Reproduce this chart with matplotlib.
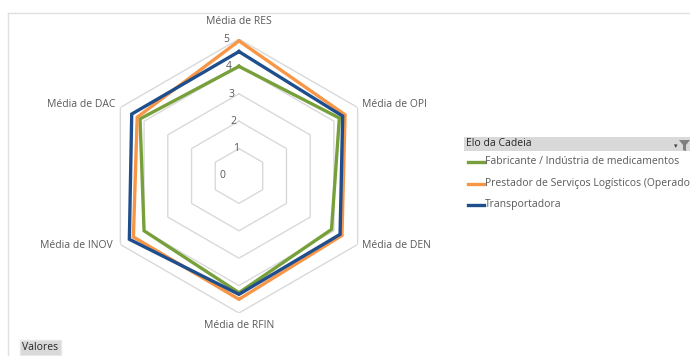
"""Radar chart: average scores per supply-chain link (Elo da Cadeia)."""

import matplotlib

matplotlib.use("Agg")

import matplotlib.pyplot as plt  # noqa: E402
import numpy as np  # noqa: E402
from matplotlib.lines import Line2D  # noqa: E402
from matplotlib.patches import Polygon, Rectangle  # noqa: E402

plt.rcParams["font.family"] = ["Open Sans", "DejaVu Sans"]

CATEGORIES = ["Média de RES", "Média de OPI", "Média de DEN",
              "Média de RFIN", "Média de INOV", "Média de DAC"]
# legend text as far as it is visible in the chart window
SERIES_NAMES = [
    "Fabricante / Indústria de medicamentos",
    "Prestador de Serviços Logísticos (Operado",
    "Transportadora",
]
FABRICANTE = [4.0, 4.23, 3.9, 4.26, 4.0, 4.17]
PRESTADOR = [4.93, 4.47, 4.34, 4.5, 4.45, 4.29]
TRANSPORTADORA = [4.54, 4.37, 4.26, 4.32, 4.62, 4.52]
RADIAL_TICKS = [0, 1, 2, 3, 4, 5]

COLORS = ["#77A03A", "#F79646", "#1F4E8C"]
TEXT_COLOR = "#595959"
GRID_COLOR = "#D9D9D9"

W, H = 690, 356


def fx(px):
    return px / W


def fy(py):
    return 1 - py / H


def main():
    fig = plt.figure(figsize=(6.9, 3.56), dpi=100)
    ax = fig.add_axes([0.1478, 0.1208, 0.3971, 0.7697], projection="polar")
    ax.set_theta_offset(np.pi / 2)
    ax.set_theta_direction(-1)
    ax.set_ylim(0, 5)
    ax.grid(False)
    ax.set_xticks([])
    ax.set_yticks([])
    ax.spines["polar"].set_visible(False)
    ax.patch.set_alpha(0)

    angles = np.linspace(0, 2 * np.pi, len(CATEGORIES), endpoint=False)
    closed = np.append(angles, angles[0])

    # hexagonal gridlines
    for level in RADIAL_TICKS[1:]:
        ax.plot(closed, [level] * len(closed), color=GRID_COLOR, lw=1.0, zorder=1)

    for tick in RADIAL_TICKS:
        if tick:
            ax.text(np.radians(-5.5), tick, str(tick), ha="center", va="center",
                    fontsize=7.5, color=TEXT_COLOR)
        else:
            ax.text(np.radians(-90), 0.6, str(tick), ha="center", va="center",
                    fontsize=7.5, color=TEXT_COLOR)

    for values, color in zip([FABRICANTE, PRESTADOR, TRANSPORTADORA], COLORS):
        vals = values + values[:1]
        ax.plot(closed, vals, color=color, lw=2.4, zorder=3, solid_joinstyle="miter")

    # category labels
    label_spots = [
        (239, 22, "center"),
        (362, 104, "left"),
        (362, 246, "left"),
        (239, 326, "center"),
        (113, 246, "right"),
        (115, 104, "right"),
    ]
    for name, (px, py, ha) in zip(CATEGORIES, label_spots):
        fig.text(fx(px), fy(py), name, ha=ha, va="center", fontsize=7.5,
                 color=TEXT_COLOR)

    # chart frame
    fig.add_artist(Line2D([fx(8), fx(8)], [0, fy(13)], transform=fig.transFigure,
                          color="#E0E0E0", lw=1))
    fig.add_artist(Line2D([fx(8), 1], [fy(13), fy(13)], transform=fig.transFigure,
                          color="#E0E0E0", lw=1))

    # legend (pivot-chart style)
    fig.add_artist(Rectangle((fx(464), fy(151)), fx(226), 14 / H,
                             transform=fig.transFigure, facecolor="#D9D9D9",
                             edgecolor="none"))
    fig.text(fx(466), fy(144), "Elo da Cadeia", ha="left", va="center",
             fontsize=7.5, color="#262626")
    fig.add_artist(Polygon([[fx(679), fy(140)], [fx(690), fy(140)],
                            [fx(686), fy(145)], [fx(686), fy(151)],
                            [fx(683), fy(150)], [fx(683), fy(145)]],
                           closed=True, transform=fig.transFigure, facecolor="#7F7F7F",
                           edgecolor="none"))
    fig.text(fx(676), fy(146), "▾", ha="center", va="center", fontsize=5,
             color="#404040", family="DejaVu Sans")
    for i, (name, color) in enumerate(zip(SERIES_NAMES, COLORS)):
        y = fy(162 + 21.5 * i)
        fig.add_artist(Line2D([fx(468), fx(484)], [y, y], transform=fig.transFigure,
                              color=color, lw=2.4))
        fig.text(fx(485), y, name, ha="left", va="center", fontsize=7.5,
                 color=TEXT_COLOR)

    # field button
    fig.add_artist(Rectangle((fx(20), fy(355)), 41 / W, 15 / H,
                             transform=fig.transFigure, facecolor="#D9D9D9",
                             edgecolor="#E8E8E8"))
    fig.text(fx(40.5), fy(347.5), "Valores", ha="center", va="center",
             fontsize=7.5, color="#262626")

    fig.savefig("out.png", dpi=100)
    plt.close(fig)


if __name__ == "__main__":
    main()
